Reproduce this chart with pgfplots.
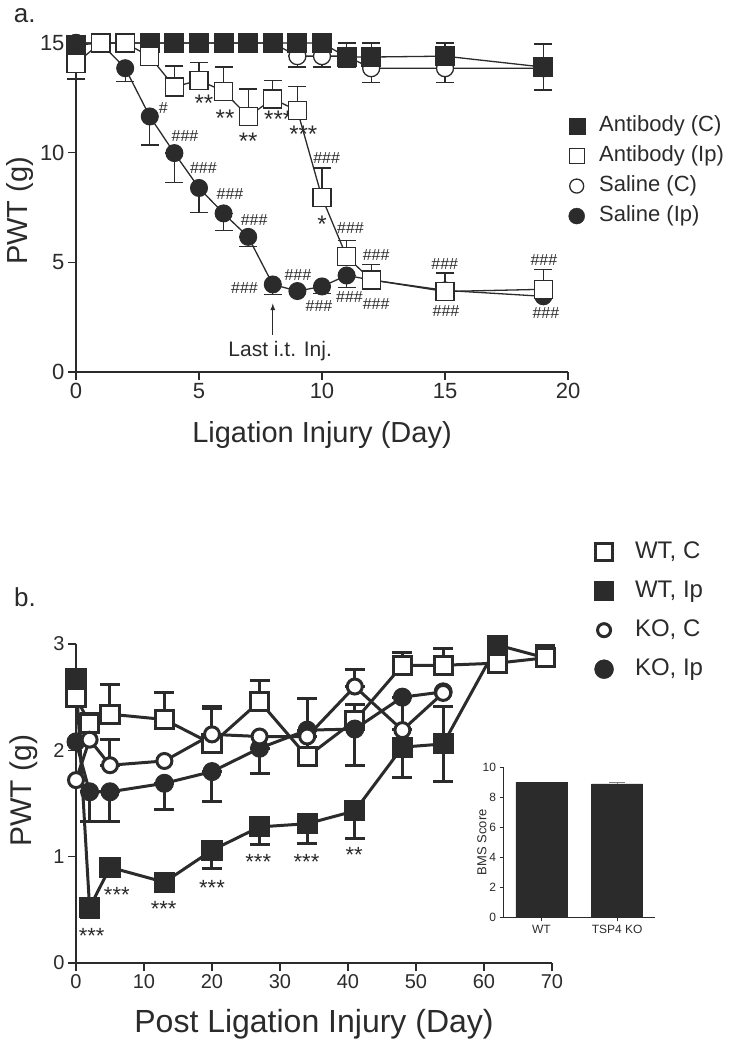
\documentclass[border=0pt]{standalone}
\usepackage{fontspec}
\setmainfont{Liberation Sans}
\usepackage{pgfplots}
\pgfplotsset{compat=1.18}
\definecolor{ink}{HTML}{2B2B2B}
\newcommand{\fs}[1]{\fontsize{#1bp}{#1bp}\selectfont}

\pgfplotsset{
  /pgf/number format/assume math mode=true,
  gp/.style={
    scale only axis, clip=false,
    axis x line*=bottom, axis y line*=left,
    tick align=outside, major tick length=8bp,
    axis line style={draw=ink, line width=1.6bp},
    major tick style={draw=ink, line width=1.6bp},
  },
  ebA/.style={draw=none, mark=none, forget plot,
    error bars/.cd, y dir=both, y explicit,
    error bar style={draw=ink, line width=1.3bp, solid},
    error mark options={draw=ink, rotate=90, mark size=9bp, line width=1.3bp}},
  ebB/.style={draw=none, mark=none, forget plot,
    error bars/.cd, y dir=both, y explicit,
    error bar style={draw=ink, line width=3bp, solid},
    error mark options={draw=ink, rotate=90, mark size=10bp, line width=3bp}},
  lnA/.style={draw=ink, line width=1.3bp, forget plot},
  lnB/.style={draw=ink, line width=3bp, forget plot},
}
\tikzset{
  hs/.style={font=\fs{16}, anchor=base, yshift=-5.5bp, inner sep=0pt, text=ink},
  stA/.style={font=\fs{24}, anchor=base, yshift=-14bp, inner sep=0pt, text=ink},
  stB/.style={font=\fs{22}, anchor=base, yshift=-13bp, inner sep=0pt, text=ink},
}

\begin{document}
\begin{tikzpicture}
\useasboundingbox (0,0) rectangle (738bp,1050bp);

% ---------------- panel a ----------------
\begin{axis}[gp,
  at={(76bp,678bp)}, anchor=south west,
  width=492bp, height=329bp,
  xmin=0, xmax=20, ymin=0, ymax=15,
  xtick={0,5,10,15,20}, ytick={0,5,10,15},
  tick label style={font=\fs{22}, text=ink},
  xlabel={Ligation Injury (Day)},
  xlabel style={font=\fs{29}, text=ink, at={(axis description cs:0.5,-0.215)}, anchor=base},
  ylabel={PWT (g)},
  ylabel style={font=\fs{29}, text=ink, at={(axis description cs:-0.114,0.49)}, anchor=center},
  legend style={draw=none, fill=none, at={(axis description cs:1.001,0.78)}, anchor=north west,
    font=\fs{22}, inner sep=0pt, row sep=9bp, column sep=14.5bp,
    nodes={inner sep=0pt, text height=16bp, text depth=5bp, text=ink}},
  legend cell align=left,
]
% Saline (C)
\addplot[ebA] coordinates {
  (9,14.4) += (0,0) -= (0,0.5) (10,14.4) += (0,0) -= (0,0.5)
  (11,14.4) += (0,0) -= (0,0.5) (12,13.85) += (0,0) -= (0,0.65)
  (15,13.85) += (0,0) -= (0,0.65)
};
\addplot[lnA, mark=*, mark size=8.5bp, mark options={fill=white, draw=ink, line width=1.3bp}] coordinates {
  (0,15) (1,15) (2,15) (3,15) (4,15) (5,15) (6,15) (7,15) (8,15)
  (9,14.4) (10,14.4) (11,14.4) (12,13.85) (15,13.85) (19,13.85)
};
% Saline (Ip)
\addplot[ebA] coordinates {
  (2,13.85) += (0,0) -= (0,0.6) (3,11.65) += (0,0) -= (0,1.3)
  (4,9.98) += (0,0) -= (0,1.33) (5,8.39) += (0,0) -= (0,1.13)
  (6,7.23) += (0,0) -= (0,0.77) (7,6.16) += (0,0) -= (0,0.45)
  (8,3.99) += (0,0) -= (0,0.45) (10,3.9) += (0,0) -= (0,0.33)
  (11,4.4) += (0,0) -= (0,0.56)
};
\addplot[lnA, mark=*, mark size=8.5bp, mark options={fill=ink, draw=ink, line width=1bp}] coordinates {
  (0,15) (1,15) (2,13.85) (3,11.65) (4,9.98) (5,8.39) (6,7.23) (7,6.16)
  (8,3.99) (9,3.69) (10,3.9) (11,4.4) (12,4.2) (15,3.72) (19,3.45)
};
% Antibody (C)
\addplot[ebA] coordinates {
  (11,14.36) += (0,0.64) -= (0,0) (12,14.36) += (0,0.64) -= (0,0)
  (15,14.4) += (0,0.6) -= (0,0) (19,13.9) += (0,1.05) -= (0,1.05)
};
\addplot[lnA, mark=square*, mark size=9.5bp, mark options={fill=ink, draw=ink, line width=1bp}] coordinates {
  (0,14.9) (1,15) (2,15) (3,15) (4,15) (5,15) (6,15) (7,15) (8,15) (9,15) (10,15)
  (11,14.36) (12,14.36) (15,14.4) (19,13.9)
};
% Antibody (Ip)
\addplot[ebA] coordinates {
  (0,14.08) += (0,0) -= (0,0.72) (4,13.0) += (0,0.95) -= (0,0)
  (5,13.3) += (0,0.8) -= (0,0) (6,12.8) += (0,1.1) -= (0,0)
  (7,11.65) += (0,1.25) -= (0,0) (8,12.45) += (0,0.85) -= (0,0)
  (9,11.92) += (0,1.1) -= (0,0) (10,7.95) += (0,1.35) -= (0,0)
  (11,5.26) += (0,0.75) -= (0,0) (12,4.2) += (0,0.7) -= (0,0)
  (15,3.67) += (0,0.85) -= (0,0) (19,3.77) += (0,0.9) -= (0,0)
};
\addplot[lnA, mark=square*, mark size=9bp, mark options={fill=white, draw=ink, line width=1.3bp}] coordinates {
  (0,14.08) (1,15) (2,15) (3,14.38) (4,13.0) (5,13.3) (6,12.8) (7,11.65)
  (8,12.45) (9,11.92) (10,7.95) (11,5.26) (12,4.2) (15,3.67) (19,3.77)
};
\addlegendimage{only marks, mark=square*, mark size=8bp, mark options={fill=ink, draw=ink}}
\addlegendentry{Antibody (C)}
\addlegendimage{only marks, mark=square*, mark size=7.5bp, mark options={fill=white, draw=ink, line width=1.3bp}}
\addlegendentry{Antibody (Ip)}
\addlegendimage{only marks, mark=*, mark size=7bp, mark options={fill=white, draw=ink, line width=1.3bp}}
\addlegendentry{Saline (C)}
\addlegendimage{only marks, mark=*, mark size=8bp, mark options={fill=ink, draw=ink}}
\addlegendentry{Saline (Ip)}
% significance marks
\node[hs] at (axis cs:3.55,12.03) {\#};
\node[hs] at (axis cs:4.43,10.77) {\#\#\#};
\node[hs] at (axis cs:5.18,9.3) {\#\#\#};
\node[hs] at (axis cs:6.26,8.1) {\#\#\#};
\node[hs] at (axis cs:7.24,6.91) {\#\#\#};
\node[hs] at (axis cs:6.85,3.84) {\#\#\#};
\node[hs] at (axis cs:9.02,4.4) {\#\#\#};
\node[hs] at (axis cs:9.88,3.0) {\#\#\#};
\node[hs] at (axis cs:10.19,9.75) {\#\#\#};
\node[hs] at (axis cs:11.16,6.58) {\#\#\#};
\node[hs] at (axis cs:11.12,3.42) {\#\#\#};
\node[hs] at (axis cs:12.2,5.35) {\#\#\#};
\node[hs] at (axis cs:12.2,3.09) {\#\#\#};
\node[hs] at (axis cs:14.99,4.92) {\#\#\#};
\node[hs] at (axis cs:15.04,2.79) {\#\#\#};
\node[hs] at (axis cs:19.02,5.1) {\#\#\#};
\node[hs] at (axis cs:19.1,2.7) {\#\#\#};
\node[stA] at (axis cs:5.2,12.51) {**};
\node[stA] at (axis cs:6.06,11.83) {**};
\node[stA] at (axis cs:7.0,10.77) {**};
\node[stA] at (axis cs:8.22,11.8) {***};
\node[stA] at (axis cs:9.24,11.08) {***};
\node[stA] at (axis cs:10.0,7.0) {*};
\draw[ink, line width=1.3bp, -latex] (axis cs:8,1.69) -- (axis cs:8,3.12);
\node[font=\fs{21}, text=ink, anchor=base] at (axis cs:8.3,0.71) {Last i.t. Inj.};
\node[font=\fs{26}, text=ink, anchor=base] at (axis description cs:-0.104,1.061) {a.};
\end{axis}

% ---------------- panel b ----------------
\begin{axis}[gp,
  at={(76bp,87bp)}, anchor=south west,
  width=476bp, height=319bp,
  xmin=0, xmax=70, ymin=0, ymax=3,
  xtick={0,10,...,70}, ytick={0,1,2,3},
  tick label style={font=\fs{20}, text=ink},
  xlabel={Post Ligation Injury (Day)},
  xlabel style={font=\fs{32}, text=ink, at={(axis description cs:0.5,-0.219)}, anchor=base},
  ylabel={PWT (g)},
  ylabel style={font=\fs{30}, text=ink, at={(axis description cs:-0.11,0.54)}, anchor=center},
  legend style={draw=none, fill=none, at={(axis description cs:1.089,1.3245)}, anchor=north west,
    font=\fs{24}, inner sep=0pt, row sep=16bp, column sep=21.5bp,
    nodes={inner sep=0pt, text height=17.5bp, text depth=5.5bp, text=ink}},
  legend cell align=left,
]
% WT, Ip
\addplot[ebB] coordinates {
  (2,0.52) += (0,0) -= (0,0.09) (5,0.9) += (0,0) -= (0,0.08)
  (13,0.76) += (0,0) -= (0,0.08) (20,1.06) += (0,0) -= (0,0.17)
  (27,1.28) += (0,0) -= (0,0.17) (34,1.31) += (0,0) -= (0,0.19)
  (41,1.43) += (0,0) -= (0,0.26) (48,2.03) += (0,0) -= (0,0.29)
  (54,2.06) += (0,0.35) -= (0,0.35)
};
\addplot[lnB, mark=square*, mark size=10bp, mark options={fill=ink, draw=ink, line width=1bp}] coordinates {
  (0,2.68) (2,0.52) (5,0.9) (13,0.76) (20,1.06) (27,1.28) (34,1.31)
  (41,1.43) (48,2.03) (54,2.06) (62,2.99) (69,2.87)
};
% WT, C
\addplot[ebB] coordinates {
  (2,2.25) += (0,0.1) -= (0,0) (5,2.34) += (0,0.28) -= (0,0)
  (13,2.29) += (0,0.25) -= (0,0) (20,2.06) += (0,0.33) -= (0,0)
  (27,2.46) += (0,0.2) -= (0,0) (34,1.94) += (0,0.55) -= (0,0)
  (41,2.28) += (0,0.15) -= (0,0) (48,2.8) += (0,0.12) -= (0,0)
  (54,2.8) += (0,0.16) -= (0,0) (69,2.87) += (0,0.12) -= (0,0)
};
\addplot[lnB, mark=square*, mark size=9bp, mark options={fill=white, draw=ink, line width=3bp}] coordinates {
  (0,2.5) (2,2.25) (5,2.34) (13,2.29) (20,2.06) (27,2.46) (34,1.94)
  (41,2.28) (48,2.8) (54,2.8) (62,2.82) (69,2.87)
};
% KO, Ip
\addplot[ebB] coordinates {
  (2,1.61) += (0,0) -= (0,0.28) (5,1.61) += (0,0) -= (0,0.28)
  (13,1.69) += (0,0) -= (0,0.25) (20,1.8) += (0,0) -= (0,0.28)
  (27,2.02) += (0,0) -= (0,0.24) (34,2.19) += (0,0) -= (0,0.33)
  (41,2.2) += (0,0) -= (0,0.34) (48,2.5) += (0,0) -= (0,0.3)
};
\addplot[lnB, mark=*, mark size=9bp, mark options={fill=ink, draw=ink, line width=1bp}] coordinates {
  (0,2.08) (2,1.61) (5,1.61) (13,1.69) (20,1.8) (27,2.02) (34,2.19)
  (41,2.2) (48,2.5) (54,2.55)
};
% KO, C
\addplot[ebB] coordinates {
  (5,1.86) += (0,0.24) -= (0,0) (20,2.15) += (0,0.26) -= (0,0)
  (34,2.13) += (0,0.36) -= (0,0) (41,2.6) += (0,0.16) -= (0,0)
};
\addplot[lnB, mark=*, mark size=7.5bp, mark options={fill=white, draw=ink, line width=3bp}] coordinates {
  (0,1.72) (2,2.1) (5,1.86) (13,1.9) (20,2.15) (27,2.13) (34,2.13)
  (41,2.6) (48,2.19) (54,2.54)
};
\addlegendimage{only marks, mark=square*, mark size=8.5bp, mark options={fill=white, draw=ink, line width=3bp}}
\addlegendentry{WT, C}
\addlegendimage{only marks, mark=square*, mark size=9.5bp, mark options={fill=ink, draw=ink}}
\addlegendentry{WT, Ip}
\addlegendimage{only marks, mark=*, mark size=6.5bp, mark options={fill=white, draw=ink, line width=3bp}}
\addlegendentry{KO, C}
\addlegendimage{only marks, mark=*, mark size=9.5bp, mark options={fill=ink, draw=ink}}
\addlegendentry{KO, Ip}
\node[stB] at (axis cs:2.3,0.31) {***};
\node[stB] at (axis cs:6.0,0.69) {***};
\node[stB] at (axis cs:12.9,0.56) {***};
\node[stB] at (axis cs:20.0,0.76) {***};
\node[stB] at (axis cs:26.8,1.0) {***};
\node[stB] at (axis cs:33.9,1.0) {***};
\node[stB] at (axis cs:40.9,1.07) {**};
\node[font=\fs{26}, text=ink, anchor=base] at (axis description cs:-0.107,1.116) {b.};
\end{axis}

% ---------------- inset ----------------
\begin{axis}[gp,
  at={(503.5bp,132.7bp)}, anchor=south west,
  width=151.5bp, height=150bp,
  xmin=-0.5, xmax=1.5, ymin=0, ymax=10,
  xtick={0,1}, xticklabels={WT,TSP4 KO}, ytick={0,2,4,6,8,10},
  major tick length=4bp,
  axis line style={draw=ink, line width=1.2bp},
  major tick style={draw=ink, line width=1.2bp},
  tick label style={font=\fs{12}, text=ink},
  ylabel={BMS Score},
  ylabel style={font=\fs{13}, text=ink, at={(axis description cs:-0.142,0.5)}, anchor=center},
  ybar, bar width=51bp,
]
\addplot[fill=ink, draw=ink,
  error bars/.cd, y dir=plus, y explicit,
  error bar style={draw=gray, line width=1bp},
  error mark options={draw=gray, rotate=90, mark size=8bp}]
  coordinates {(0,9.0) (1,8.9) +- (0,0.08)};
\end{axis}
\end{tikzpicture}
\end{document}
